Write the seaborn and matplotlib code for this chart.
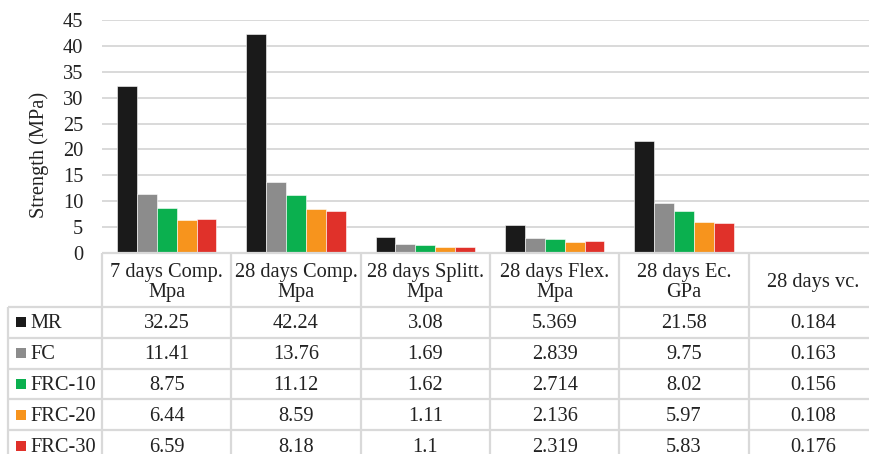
import matplotlib
matplotlib.use("Agg")
import matplotlib.pyplot as plt
import matplotlib.transforms as mtransforms
from matplotlib.patches import Rectangle
import pandas as pd
import seaborn as sns

# Test properties (column headers of the data table)
properties = ["7 days Comp.\nMpa", "28 days Comp.\nMpa", "28 days Splitt.\nMpa",
              "28 days Flex.\nMpa", "28 days Ec.\nGPa", "28 days vc."]
mixes = ["MR", "FC", "FRC-10", "FRC-20", "FRC-30"]

mr = [32.25, 42.24, 3.08, 5.369, 21.58, 0.184]
fc = [11.41, 13.76, 1.69, 2.839, 9.75, 0.163]
frc10 = [8.75, 11.12, 1.62, 2.714, 8.02, 0.156]
frc20 = [6.44, 8.59, 1.11, 2.136, 5.97, 0.108]
frc30 = [6.59, 8.18, 1.1, 2.319, 5.83, 0.176]

y_ticks = [0, 5, 10, 15, 20, 25, 30, 35, 40, 45]
colors = ["#1a1a1a", "#8c8c8c", "#0bb04f", "#f7941d", "#e0312a"]

series = [mr, fc, frc10, frc20, frc30]
df = pd.DataFrame(
    [(p, m, v) for m, vals in zip(mixes, series) for p, v in zip(properties, vals)],
    columns=["property", "mix", "value"],
)

sns.set_theme(style="white")
plt.rcParams["font.family"] = ["Liberation Serif", "DejaVu Serif"]
FS = 14.7
TXT = "#222222"
GRID = "#d9d9d9"

W, H = 869, 454
fig = plt.figure(figsize=(W / 100, H / 100), dpi=100)
fig.patch.set_facecolor("white")

# plot area in pixel terms: left 102, bottom 253, top 20, right 878
ax = fig.add_axes([102 / W, 1 - 253 / H, 776 / W, 233 / H])
sns.barplot(data=df, x="property", y="value", hue="mix", order=properties,
            hue_order=mixes, palette=colors, width=0.77, saturation=1,
            edgecolor="#ffffff", linewidth=0.4, legend=False, ax=ax)
ax.set_ylim(0, 45)
ax.set_xlim(-0.5, len(properties) - 0.5)
ax.set_yticks(y_ticks)
ax.set_yticklabels([str(t) for t in y_ticks], fontsize=FS, color=TXT)
ax.set_xticks([])
ax.set_xlabel("")
ax.set_ylabel("Strength (MPa)", fontsize=FS, color=TXT, labelpad=10)
ax.yaxis.label.set_y(0.42)
ax.tick_params(axis="y", length=0, pad=13.5)
ax.yaxis.grid(True, color=GRID, linewidth=1.4)
ax.set_axisbelow(True)
for s in ax.spines.values():
    s.set_visible(False)

# overlay in pixel coordinates for the data table
ov = fig.add_axes([0, 0, 1, 1], zorder=5)
ov.set_xlim(0, W)
ov.set_ylim(H, 0)
ov.axis("off")
ov.patch.set_alpha(0)
trans = mtransforms.blended_transform_factory(ax.transData, ov.transData)

header_top, header_bot = 253, 307
row_h = 30.8
row_edges = [header_bot + i * row_h for i in range(len(mixes) + 1)]
ncol = len(properties)
lkw = dict(color=GRID, linewidth=1.6, clip_on=False, solid_capstyle="butt")

# header row border and column separators
ov.plot([-0.5, ncol - 0.5], [header_top, header_top], transform=trans, **lkw)
for i in range(ncol + 1):
    ov.plot([i - 0.5, i - 0.5], [header_top, row_edges[-1]], transform=trans, **lkw)
for y in row_edges:
    ov.plot([8, W + 20], [y, y], **lkw)
ov.plot([8, 8], [row_edges[0], row_edges[-1]], **lkw)

for i, p in enumerate(properties):
    ov.text(i, (header_top + header_bot) / 2 + 2.5, p, transform=trans, ha="center",
            va="center", fontsize=FS, color=TXT, linespacing=1.1)

for r, (m, vals, c) in enumerate(zip(mixes, series, colors)):
    yc = row_edges[r] + row_h / 2
    ov.add_patch(Rectangle((16, yc - 5), 10, 10, facecolor=c, edgecolor="none"))
    ov.text(30, yc + 1.5, m, ha="left", va="center", fontsize=FS, color=TXT)
    for i, v in enumerate(vals):
        ov.text(i, yc + 1.5, str(v), transform=trans, ha="center", va="center",
                fontsize=FS, color=TXT)

fig.savefig("out.png", dpi=100)
